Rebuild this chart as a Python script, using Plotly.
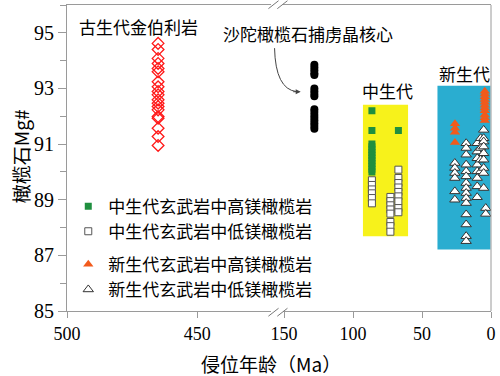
import plotly.graph_objects as go

# ---------------- data ----------------
paleo_age = [465] * 19
paleo_mg = [94.62, 94.40, 94.08, 93.90, 93.72, 93.60, 93.24, 93.06, 92.89, 92.77,
            92.59, 92.47, 92.35, 92.23, 91.99, 91.93, 91.57, 91.27, 90.95]

shatuo_age = [128] * 17
shatuo_mg = [93.85, 93.75, 93.65, 93.55, 93.48, 93.0, 92.9, 92.8, 92.72,
             92.25, 92.15, 92.05, 91.95, 91.85, 91.75, 91.65, 91.55]

meso_high_age = [86.3, 86.3, 67.1] + [86.3] * 11
meso_high_mg = [92.2, 91.49, 91.49, 91.0, 90.9, 90.8, 90.7, 90.6, 90.5, 90.4, 90.3, 90.2, 90.1, 90.0]

meso_low_age = [86.3] * 6 + [72.9] * 8 + [67.1] * 9
meso_low_mg = [89.70, 89.53, 89.37, 89.23, 89.06, 88.87,
               89.1, 88.95, 88.8, 88.65, 88.5, 88.2, 88.05, 87.85,
               90.08, 89.78, 89.6, 89.44, 89.28, 89.12, 88.94, 88.70, 88.55]

ceno_high_age = [26.1] * 4 + [4.5] * 11
ceno_high_mg = [91.73, 91.57, 91.43, 91.06,
                92.9, 92.8, 92.7, 92.6, 92.5, 92.4, 92.3, 92.2, 92.05, 91.95, 91.85]

ceno_low_age = [26.2] * 6 + [18] * 15 + [10] * 8 + [7.5] * 4 + [5.3] * 9 + [3.8] * 2
ceno_low_mg = [90.32, 90.14, 89.96, 89.78, 89.30, 89.0,
               91.03, 90.86, 90.62, 90.26, 90.02, 89.84, 89.60, 89.42, 89.24, 89.06, 88.88, 88.47, 88.11, 87.69, 87.51,
               91.03, 90.73, 90.49, 90.26, 90.02, 89.78, 89.48, 89.09,
               91.21, 90.86, 90.44, 90.02,
               91.51, 91.21, 91.09, 90.91, 90.67, 90.44, 90.14, 89.96, 89.42,
               88.7, 88.49]

x_left_ticks = [500, 450]
x_right_ticks = [150, 100, 50, 0]
y_ticks = [85, 87, 89, 91, 93, 95]

names = ["中生代玄武岩中高镁橄榄岩", "中生代玄武岩中低镁橄榄岩",
         "新生代玄武岩中高镁橄榄岩", "新生代玄武岩中低镁橄榄岩"]

CJK = "Noto Sans CJK SC"
SERIF = "'Liberation Serif', 'DejaVu Serif', serif"
AX = "#9a9a9a"

fig = go.Figure()

fig.add_trace(go.Scatter(x=paleo_age, y=paleo_mg, xaxis="x", yaxis="y", mode="markers",
                         marker=dict(symbol="diamond-open", size=9, color="#ff1a1a", line=dict(width=1.3)),
                         showlegend=False))
fig.add_trace(go.Scatter(x=shatuo_age, y=shatuo_mg, xaxis="x2", yaxis="y", mode="markers",
                         marker=dict(symbol="circle", size=8, color="black"), showlegend=False))
fig.add_trace(go.Scatter(x=meso_high_age, y=meso_high_mg, xaxis="x2", yaxis="y", mode="markers",
                         name=names[0], legendgroup="a",
                         marker=dict(symbol="square", size=7, color="#1f8f3f")))
fig.add_trace(go.Scatter(x=meso_low_age, y=meso_low_mg, xaxis="x2", yaxis="y", mode="markers",
                         name=names[1], legendgroup="a",
                         marker=dict(symbol="square", size=7, color="white", line=dict(color="#555", width=1))))
fig.add_trace(go.Scatter(x=ceno_high_age, y=ceno_high_mg, xaxis="x2", yaxis="y", mode="markers",
                         name=names[2], legendgroup="b",
                         marker=dict(symbol="triangle-up", size=9, color="#f25a1c")))
fig.add_trace(go.Scatter(x=ceno_low_age, y=ceno_low_mg, xaxis="x2", yaxis="y", mode="markers",
                         name=names[3], legendgroup="b",
                         marker=dict(symbol="triangle-up", size=9, color="white", line=dict(color="#333", width=1))))

shapes = [
    dict(type="rect", xref="x2", yref="y", x0=92.8, x1=60.1, y0=87.69, y1=92.41,
         fillcolor="#f7f21b", line=dict(width=0), layer="below"),
    dict(type="rect", xref="x2", yref="y", x0=38.8, x1=0.4, y0=87.21, y1=93.1,
         fillcolor="#2aadd0", line=dict(width=0), layer="below"),
    # right border
    dict(type="line", xref="paper", yref="paper", x0=1, x1=1, y0=0, y1=1, line=dict(color=AX, width=1)),
    # axis break marks
    dict(type="line", xref="paper", yref="paper", x0=0.475, y0=-0.017, x1=0.499, y1=0.009, line=dict(color="#777", width=1)),
    dict(type="line", xref="paper", yref="paper", x0=0.496, y0=-0.017, x1=0.520, y1=0.009, line=dict(color="#777", width=1)),
    dict(type="line", xref="paper", yref="paper", x0=0.475, y0=0.988, x1=0.499, y1=1.014, line=dict(color="#777", width=1)),
    dict(type="line", xref="paper", yref="paper", x0=0.496, y0=0.988, x1=0.520, y1=1.014, line=dict(color="#777", width=1)),
    # curved arrow
    dict(type="path", xref="paper", yref="paper",
         path="M 0.4895 0.859 Q 0.4918 0.7255 0.541 0.717", line=dict(color="#444", width=1)),
]

ann = [
    dict(text="古生代金伯利岩", x=0.169, y=0.931),
    dict(text="沙陀橄榄石捕虏晶核心", x=0.569, y=0.908),
    dict(text="中生代", x=0.756, y=0.721),
    dict(text="新生代", x=0.937, y=0.775),
]
annotations = [dict(xref="paper", yref="paper", showarrow=False, xanchor="center", yanchor="middle",
                    font=dict(family=CJK, size=17, color="black"), **a) for a in ann]
annotations.append(dict(xref="paper", yref="paper", x=0.5512, y=0.7166, ax=-9, ay=0, text="",
                        showarrow=True, arrowhead=2, arrowsize=1, arrowwidth=1, arrowcolor="#444"))
annotations.append(dict(xref="paper", yref="paper", x=0.48, y=-0.170, text="侵位年龄（Ma）", showarrow=False,
                        xanchor="center", yanchor="middle", font=dict(family=CJK, size=19, color="black")))
annotations.append(dict(xref="paper", yref="paper", x=-0.110, y=0.507, text="橄榄石Mg#", showarrow=False,
                        textangle=-90, xanchor="center", yanchor="middle",
                        font=dict(family=CJK, size=19, color="black")))

xcommon = dict(showline=True, linecolor=AX, linewidth=1, mirror=True, ticks="outside", ticklen=6,
               tickcolor=AX, showgrid=False, zeroline=False,
               tickfont=dict(family=SERIF, size=18, color="black"))

fig.update_layout(
    width=500, height=376,
    margin=dict(l=67, r=6, t=4, b=65),
    paper_bgcolor="white", plot_bgcolor="white",
    xaxis=dict(domain=[0, 0.480], range=[500, 421.8], tickvals=x_left_ticks, anchor="y", **xcommon),
    xaxis2=dict(domain=[0.5105, 1], range=[150.4, 0], tickvals=x_right_ticks, anchor="y", **xcommon),
    yaxis=dict(range=[85, 96], tickvals=y_ticks, showline=True, linecolor=AX, linewidth=1,
               ticks="outside", ticklen=8, tickcolor=AX, showgrid=False, zeroline=False,
               minor=dict(tickvals=[86, 88, 90, 92, 94, 96], ticks="outside", ticklen=6, tickcolor=AX),
               tickfont=dict(family=SERIF, size=20, color="black"), anchor="x"),
    legend=dict(x=0.003, y=0.40, xanchor="left", yanchor="top", bgcolor="rgba(0,0,0,0)",
                font=dict(family=CJK, size=17, color="black"), tracegroupgap=8,
                traceorder="grouped"),
    shapes=shapes,
    annotations=annotations,
    showlegend=True,
)

fig.write_html("out.html", config={"displayModeBar": False},
               post_script="document.body.style.margin='0';document.body.style.padding='0';")
